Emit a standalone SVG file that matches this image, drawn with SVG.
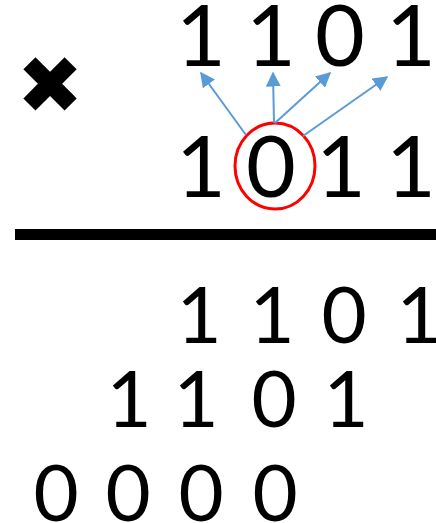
<svg xmlns="http://www.w3.org/2000/svg" width="436" height="523" viewBox="0 0 436 523">
<style>
.d{font-family:Lato,"DejaVu Sans",sans-serif;fill:#000;text-anchor:middle}
.t{font-size:86px}
.b{font-size:78px}
.ar{stroke:#5B9BD5;stroke-width:2;fill:none;marker-end:url(#ah)}
</style>
<defs>
<marker id="ah" viewBox="0 0 10 10" refX="9" refY="5" markerWidth="7.5" markerHeight="7.5" orient="auto" markerUnits="strokeWidth">
<path d="M0,0 L10,5 L0,10 z" fill="#5B9BD5"/>
</marker>
</defs>
<rect width="436" height="523" fill="#fff"/>
<g id="multiplicand">
<text class="d t" x="201" y="66">1</text>
<text class="d t" x="271" y="66">1</text>
<text class="d t" x="340" y="66">0</text>
<text class="d t" x="411" y="66">1</text>
</g>
<g id="times">
<text x="50" y="113" font-family="DejaVu Sans,sans-serif" font-size="80" text-anchor="middle">✖</text>
</g>
<g id="multiplier">
<text class="d t" x="201" y="197">1</text>
<text class="d t" x="271" y="197">0</text>
<text class="d t" x="341" y="197">1</text>
<text class="d t" x="411" y="197">1</text>
</g>
<g id="highlight">
<ellipse cx="275" cy="166" rx="40" ry="43" fill="none" stroke="#FF0000" stroke-width="3"/>
</g>
<g id="connectors">
<line class="ar" x1="246" y1="135" x2="201" y2="73"/>
<line class="ar" x1="274" y1="123" x2="273" y2="73"/>
<line class="ar" x1="275" y1="123" x2="330" y2="73"/>
<line class="ar" x1="303" y1="136" x2="387" y2="77"/>
</g>
<g id="rule">
<rect x="15" y="229" width="421" height="11" fill="#000"/>
</g>
<g id="partial1">
<text class="d b" x="199" y="343">1</text>
<text class="d b" x="272" y="343">1</text>
<text class="d b" x="344" y="343">0</text>
<text class="d b" x="419" y="343">1</text>
</g>
<g id="partial2">
<text class="d b" x="129" y="427">1</text>
<text class="d b" x="196" y="427">1</text>
<text class="d b" x="274" y="427">0</text>
<text class="d b" x="346" y="427">1</text>
</g>
<g id="partial3">
<text class="d b" x="56" y="521">0</text>
<text class="d b" x="128" y="521">0</text>
<text class="d b" x="201" y="521">0</text>
<text class="d b" x="275" y="521">0</text>
</g>
</svg>
